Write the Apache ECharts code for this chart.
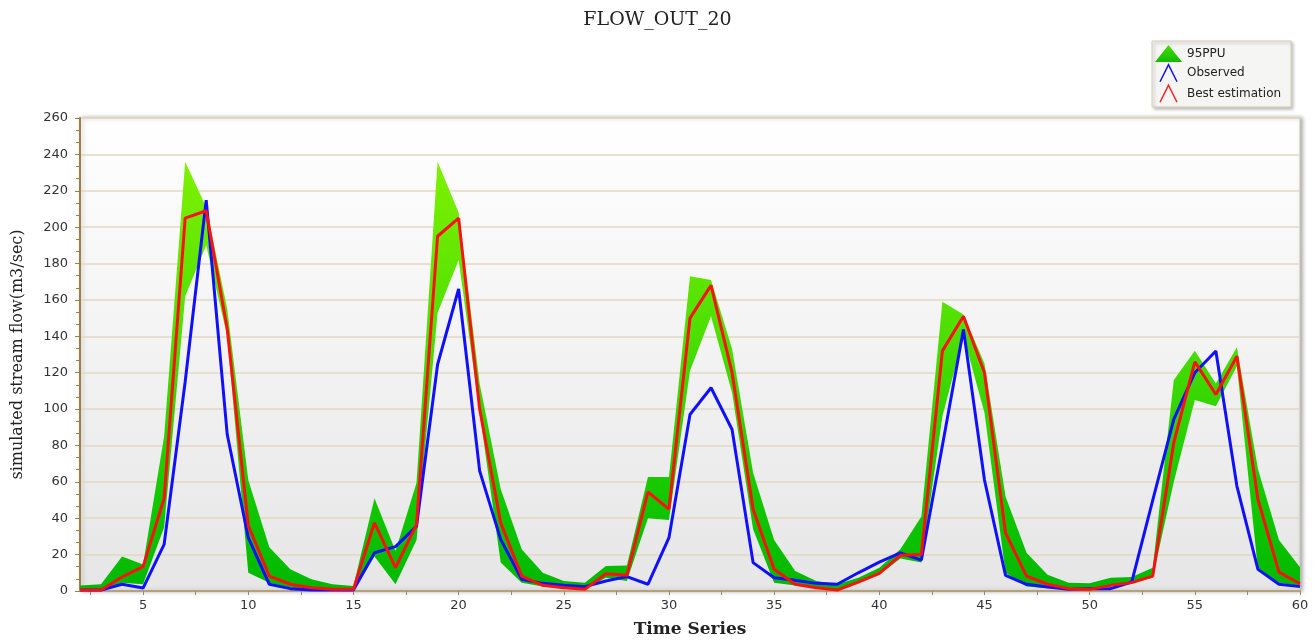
<!DOCTYPE html>
<html>
<head>
<meta charset="utf-8">
<script src="https://cdn.jsdelivr.net/npm/echarts@6/dist/echarts.min.js"></script>
<style>html,body{margin:0;padding:0;background:#fff;}#c{width:1315px;height:643px;}</style>
</head>
<body>
<div id="c"></div>
<script>
// Time steps (x)
var timeSteps = [2,3,4,5,6,7,8,9,10,11,12,13,14,15,16,17,18,19,20,21,22,23,24,25,26,27,28,29,30,31,32,33,34,35,36,37,38,39,40,41,42,43,44,45,46,47,48,49,50,51,52,53,54,55,56,57,58,59,60];
// 95PPU upper and lower bounds
var ppuUpper = [3,3.7,19,14.6,85,236,211,155,61,24,12,6.4,3.7,2.7,51,22,59.5,236,208,114,56,23,10,5.5,4.6,13.7,14,62.6,62.6,173,171,133,65,28,11,5.5,3.7,7.3,12.8,23,41,159,152,125,52,21,9,4.6,4.2,7.3,7.7,12.8,116,132,114,134,67,28,13];
var ppuLower = [1,0.5,4.5,3.7,35,162,190,140,10,4.6,1.8,1,0.5,0.5,19,3.7,28,153,182,98,15.6,4.6,2.5,1.5,0.8,7.3,5.5,40,39,121,151,109,34,4.6,3,1.5,0.8,4.5,9,17.8,15.6,96,140,98,10,2.5,1.5,1.8,1.5,2.5,4.6,7.3,60,105,101.6,123.6,12,4.6,2.7];
// Observed
var observed = [0.5,0.5,3.7,1.6,25.6,115,214.8,86,29.3,3.7,1.3,0.5,0.5,0.5,21,24.4,35.7,124.5,166,66,28.4,6.4,4.2,3.1,2.4,5.5,7.9,3.7,29.3,97,111.7,88.8,15.6,7.3,5.9,4.2,3.7,10,15.9,21,17,80,143.8,61,8.6,3.7,2.2,0.9,1.3,1.3,4.9,50,94.3,120,131.9,57.7,11.9,3.7,2.4];
// Best estimation
var bestEstimation = [0.5,0.5,7.7,13.4,51,205,209,144,36,8.2,3.7,1.8,1,1,37.5,12.8,36.6,195,205,100,37.5,8.2,3.1,1.8,0.9,9.5,8.6,54.4,45,150,168,120,45,12,3.7,1.8,0.5,4.9,9.7,19.6,20,132,151,120,32,8.2,3.7,1.3,0.9,3.1,4.6,8.2,81.5,126,108,129,50.4,10.4,4];
var xLabelValues = [5,10,15,20,25,30,35,40,45,50,55,60];
var xTickValues = [2.5,5,7.5,10,12.5,15,17.5,20,22.5,25,27.5,30,32.5,35,37.5,40,42.5,45,47.5,50,52.5,55,57.5,60];

function pairs(arr){ return timeSteps.map(function(t,i){ return [t, arr[i]]; }); }
var bandData = timeSteps.map(function(t,i){ return [t, ppuLower[i], ppuUpper[i]]; });

var greenGrad = {type:'linear', x:0, y:118, x2:0, y2:591, global:true,
  colorStops:[{offset:0,color:'#8cf500'},{offset:0.45,color:'#4ee000'},{offset:0.8,color:'#14c800'},{offset:1,color:'#00b800'}]};

function renderBand(params, api){
  if (params.dataIndex !== 0) return null;
  var pts = [];
  var i;
  for (i = 0; i < timeSteps.length; i++) pts.push(api.coord([timeSteps[i], ppuUpper[i]]));
  for (i = timeSteps.length - 1; i >= 0; i--) pts.push(api.coord([timeSteps[i], ppuLower[i]]));
  return {type:'polygon', shape:{points:pts}, style:{fill:greenGrad, stroke:null}};
}

var chart = echarts.init(document.getElementById('c'));
chart.setOption({
  animation:false,
  backgroundColor:'#ffffff',
  title:{text:'FLOW_OUT_20', left:'center', top:6,
    textStyle:{fontFamily:'DejaVu Serif', fontSize:19, fontWeight:'normal', color:'#222'}},
  legend:{
    orient:'vertical', left:1152, top:41,
    padding:[4,10,4,3], itemGap:2, itemWidth:27, itemHeight:17,
    backgroundColor:'#f5f5f3', borderColor:'#d6ccb0', borderWidth:1,
    shadowColor:'rgba(0,0,0,0.25)', shadowBlur:3, shadowOffsetX:2, shadowOffsetY:2,
    textStyle:{fontFamily:'DejaVu Sans', fontSize:12, color:'#222'},
    data:[
      {name:'95PPU', icon:'triangle', itemStyle:{color:{type:'linear',x:0,y:0,x2:0,y2:1,colorStops:[{offset:0,color:'#44dd00'},{offset:1,color:'#11bb00'}]}, borderWidth:0}},
      {name:'Observed', icon:'path://M0,20 L10,0 L20,20', itemStyle:{color:'transparent', borderColor:'#1010ff', borderWidth:1.5}},
      {name:'Best estimation', icon:'path://M0,20 L10,0 L20,20', itemStyle:{color:'transparent', borderColor:'#ff2020', borderWidth:1.5}}
    ]
  },
  grid:{left:80, right:15, top:118, bottom:52, show:true,
    backgroundColor:{type:'linear',x:0,y:0,x2:0,y2:1,colorStops:[{offset:0,color:'#ffffff'},{offset:1,color:'#e6e6e6'}]},
    borderColor:'#cfc7b2', borderWidth:1,
    shadowColor:'rgba(0,0,0,0.35)', shadowBlur:4, shadowOffsetX:2, shadowOffsetY:0},
  xAxis:{type:'value', min:2, max:60,
    name:'Time Series', nameLocation:'middle', nameGap:30,
    nameTextStyle:{fontFamily:'DejaVu Serif', fontSize:17, fontWeight:'bold', color:'#222'},
    axisLine:{show:true, onZero:false, lineStyle:{color:'#b4a27a', width:2}},
    axisTick:{show:true, customValues:xTickValues, length:4, lineStyle:{color:'#a08a5a'}},
    axisLabel:{customValues:xLabelValues, margin:8, fontFamily:'DejaVu Sans', fontSize:13, color:'#333'},
    splitLine:{show:false}},
  yAxis:{type:'value', min:0, max:260, interval:20,
    name:'simulated stream flow(m3/sec)', nameLocation:'middle', nameGap:54, nameRotate:90,
    nameTextStyle:{fontFamily:'DejaVu Serif', fontSize:16, color:'#222'},
    axisLine:{show:true, lineStyle:{color:'#9c7e46', width:2}},
    axisTick:{show:true, length:5, lineStyle:{color:'#9c7e46'}},
    minorTick:{show:true, splitNumber:3, length:4, lineStyle:{color:'#9c7e46'}},
    axisLabel:{margin:12, fontFamily:'DejaVu Sans', fontSize:13, color:'#333'},
    splitLine:{show:true, lineStyle:{color:'#e2d8c2', width:1.5}}},
  series:[
    {name:'95PPU', type:'custom', data:bandData, renderItem:renderBand,
      encode:{x:0, y:[1,2]}, itemStyle:{color:'#33d400'}, z:1},
    {name:'Observed', type:'line', data:pairs(observed), symbol:'none',
      itemStyle:{color:'#1010ff'}, lineStyle:{color:'#1010ff', width:3}, z:3},
    {name:'Best estimation', type:'line', data:pairs(bestEstimation), symbol:'none',
      itemStyle:{color:'#ff1010'}, lineStyle:{color:'#ff1010', width:3}, z:4}
  ]
});
</script>
</body>
</html>
